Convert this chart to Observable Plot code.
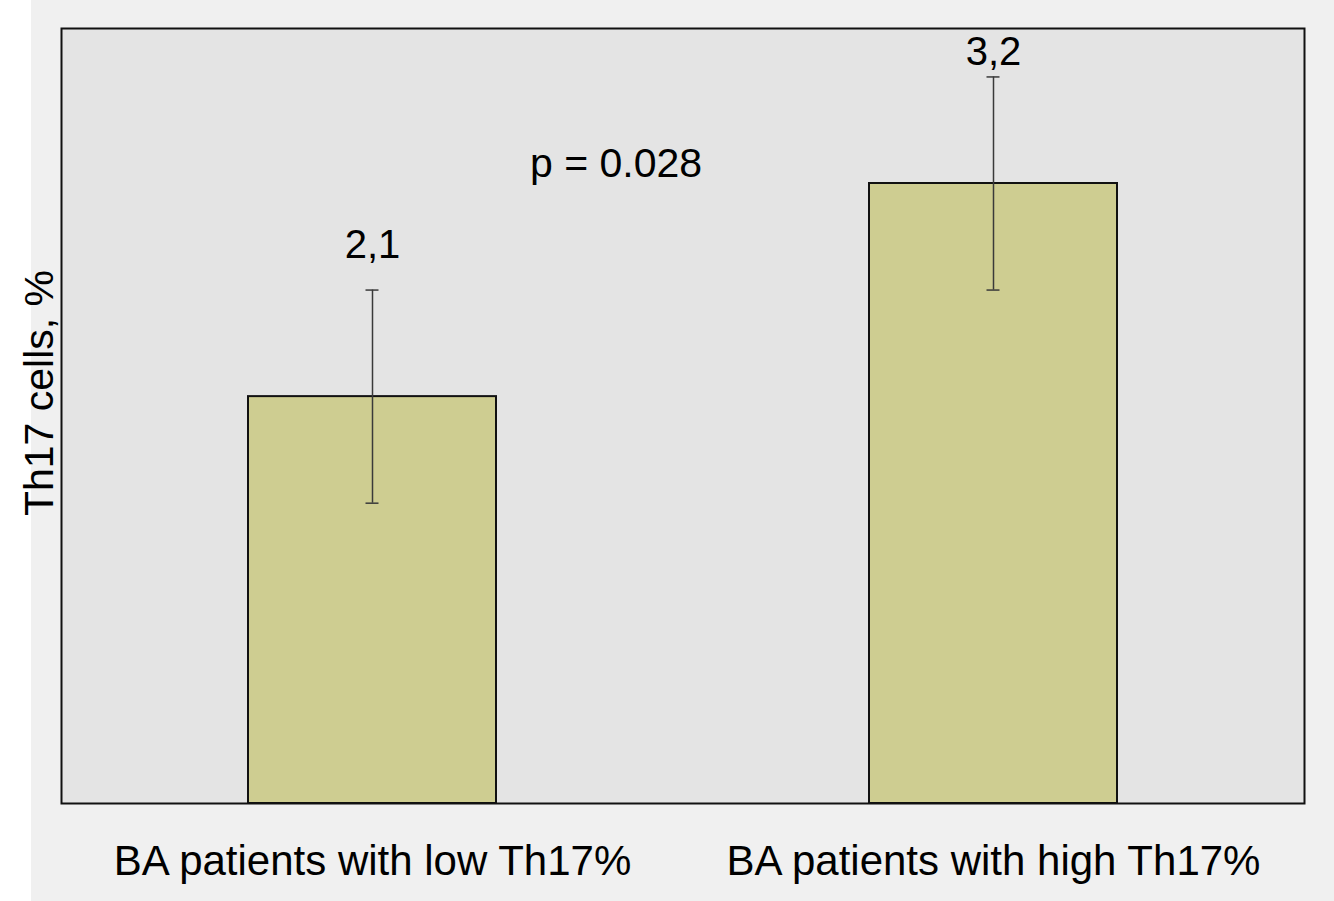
<!DOCTYPE html>
<html><head><meta charset="utf-8">
<script src="https://cdn.jsdelivr.net/npm/d3@7"></script>
<script src="https://cdn.jsdelivr.net/npm/@observablehq/plot@0.6"></script>
<style>body{margin:0;background:#fff}</style></head>
<body><div id="chart"></div>
<script>
const categories = ["BA patients with low Th17%", "BA patients with high Th17%"];
const means = [2.1, 3.2];
const errors = [0.55, 0.55];
const valueLabels = ["2,1", "3,2"];
const pLabel = "p = 0.028";
const yLabel = "Th17 cells, %";

const data = categories.map((c, i) => ({cat: c, v: means[i], lo: means[i] - errors[i], hi: means[i] + errors[i], label: valueLabels[i]}));
const font = "'Liberation Sans', Arial, Helvetica, sans-serif";

const chart = Plot.plot({
  width: 1334,
  height: 901,
  marginTop: 28,
  marginBottom: 98,
  marginLeft: 61,
  marginRight: 30,
  style: {background: "linear-gradient(to right, #ffffff 31px, #f0f0f0 31px)", fontFamily: font, color: "#000"},
  x: {domain: categories, paddingInner: 0.6, paddingOuter: 0.3, label: null},
  y: {domain: [0, 4], axis: null},
  marks: [
    Plot.frame({fill: "#e4e4e4"}),
    Plot.barY(data, {x: "cat", y: "v", fill: "#cecd91", stroke: "#111", strokeWidth: 2}),
    Plot.ruleX(data, {x: "cat", y1: "lo", y2: "hi", stroke: "#3a3a3a", strokeWidth: 1.5}),
    Plot.tickY(data, {x: "cat", y: "hi", stroke: "#3a3a3a", strokeWidth: 1.5, insetLeft: 117.5, insetRight: 117.5}),
    Plot.tickY(data, {x: "cat", y: "lo", stroke: "#3a3a3a", strokeWidth: 1.5, insetLeft: 117.5, insetRight: 117.5}),
    Plot.text(data.slice(0, 1), {x: "cat", y: "hi", text: "label", dy: -45, fontSize: 40, fill: "#000"}),
    Plot.text(data.slice(1), {x: "cat", y: "hi", text: "label", dy: -25, fontSize: 40, fill: "#000"}),
    Plot.text([pLabel], {frameAnchor: "top", dx: -67, dy: 119, fontSize: 41, fill: "#000"}),
    Plot.text([yLabel], {frameAnchor: "left", textAnchor: "middle", rotate: -90, dx: -22, dy: -23, fontSize: 41, fill: "#000"}),
    Plot.frame({stroke: "#111", strokeWidth: 2}),
    Plot.axisX({tickSize: 0, tickPadding: 42, fontSize: 42, label: null, fill: "#000"})
  ]
});
document.getElementById("chart").appendChild(chart);
</script>
</body></html>
